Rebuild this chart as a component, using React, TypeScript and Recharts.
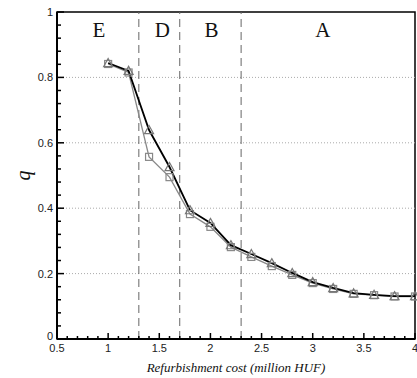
import React from "react";
import {
  Line,
  LineChart,
  ReferenceArea,
  ReferenceDot,
  ReferenceLine,
  XAxis,
  YAxis,
} from "recharts";

// refurbishment cost (million HUF)
const costs = [1.0, 1.2, 1.4, 1.6, 1.8, 2.0, 2.2, 2.4, 2.6, 2.8, 3.0, 3.2, 3.4, 3.6, 3.8, 4.0];
// black line, triangle symbols
const qTriangle = [0.844, 0.82, 0.639, 0.526, 0.394, 0.355, 0.287, 0.26, 0.232, 0.202, 0.174, 0.156, 0.14, 0.135, 0.131, 0.131];
// grey line, square symbols
const qSquare = [0.841, 0.815, 0.557, 0.495, 0.382, 0.343, 0.281, 0.251, 0.223, 0.196, 0.171, 0.153, 0.138, 0.134, 0.13, 0.13];

const xTicks = [
  0.5, 0.6, 0.7, 0.8, 0.9, 1.0, 1.1, 1.2, 1.3, 1.4, 1.5, 1.6, 1.7, 1.8, 1.9, 2.0, 2.1, 2.2,
  2.3, 2.4, 2.5, 2.6, 2.7, 2.8, 2.9, 3.0, 3.1, 3.2, 3.3, 3.4, 3.5, 3.6, 3.7, 3.8, 3.9, 4.0,
];
const yTicks = [
  0, 0.04, 0.08, 0.12, 0.16, 0.2, 0.24, 0.28, 0.32, 0.36, 0.4, 0.44, 0.48, 0.52, 0.56, 0.6,
  0.64, 0.68, 0.72, 0.76, 0.8, 0.84, 0.88, 0.92, 0.96, 1,
];
const gridValues = [0.2, 0.4, 0.6, 0.8];
const zoneBounds = [1.3, 1.7, 2.3];
const zoneLabels = ["E", "D", "B", "A"];
const zoneCenters = [0.91, 1.53, 2.01, 3.1];

const data = costs.map((c, i) => ({ cost: c, tri: qTriangle[i], sq: qSquare[i] }));

const fmt = (v: number) => String(Math.round(v * 10) / 10);
const SERIF = "'Liberation Serif', 'Times New Roman', serif";
const SANS = "'Liberation Sans', Arial, sans-serif";

function XTick(props: any) {
  const { x, y, payload } = props;
  const v = payload.value;
  const major = Math.abs(v * 2 - Math.round(v * 2)) < 1e-6;
  return (
    <g>
      <line x1={x} x2={x} y1={y} y2={y - (major ? 6 : 3)} stroke="#000" strokeWidth={1.5} />
      {major && (
        <text x={x} y={y + 13} textAnchor="middle" fontSize={11} fill="#222" fontFamily={SANS}>
          {fmt(v)}
        </text>
      )}
    </g>
  );
}

function YTick(props: any) {
  const { x, y, payload } = props;
  const v = payload.value;
  const major = Math.abs(v * 5 - Math.round(v * 5)) < 1e-6;
  return (
    <g>
      <line x1={x} x2={x + (major ? 7 : 4)} y1={y} y2={y} stroke="#000" strokeWidth={1.5} />
      {major && (
        <text x={x - 4} y={v === 0 ? y + 1 : y + 4} textAnchor="end" fontSize={11} fill="#222" fontFamily={SANS}>
          {fmt(v)}
        </text>
      )}
    </g>
  );
}

function TriangleDot(props: any) {
  const { cx, cy, index } = props;
  const s = 4.5;
  return (
    <path
      key={`t${index}`}
      d={`M${cx},${cy - s} L${cx + s},${cy + s * 0.8} L${cx - s},${cy + s * 0.8} Z`}
      fill="none"
      stroke="#777"
      strokeWidth={1.2}
    />
  );
}

function SquareDot(props: any) {
  const { cx, cy, index } = props;
  const s = 3.5;
  return (
    <rect key={`s${index}`} x={cx - s} y={cy - s} width={s * 2} height={s * 2} fill="none" stroke="#888" strokeWidth={1.2} />
  );
}

function XTitle(props: any) {
  const { viewBox } = props;
  const cx = viewBox.x + viewBox.width / 2;
  return (
    <text x={cx} y={372} textAnchor="middle" fontSize={13} fontStyle="italic" fill="#111" fontFamily={SERIF}>
      Refurbishment cost (million HUF)
    </text>
  );
}

function YTitle(props: any) {
  const { viewBox } = props;
  const cy = viewBox.y + viewBox.height / 2;
  return (
    <text x={30} y={cy} transform={`rotate(-90 30 ${cy})`} textAnchor="middle" fontSize={20} fontStyle="italic" fill="#111" fontFamily={SERIF}>
      q
    </text>
  );
}

export default function App() {
  return (
    <div style={{ position: "absolute", left: 0, top: 0 }}>
      <LineChart width={417} height={378} data={data} margin={{ top: 12, right: 2, bottom: 0, left: 0 }}>
        {gridValues.map((g) => (
          <ReferenceLine key={g} y={g} stroke="#aaa" strokeDasharray="1 2" />
        ))}
        {zoneBounds.map((b) => (
          <ReferenceLine key={b} x={b} stroke="#666" strokeDasharray="8 5" />
        ))}
        <ReferenceArea x1={0.5} x2={4} y1={0} y2={1} fill="none" stroke="#000" strokeWidth={1.5} />
        <XAxis
          dataKey="cost"
          type="number"
          domain={[0.5, 4]}
          ticks={xTicks}
          interval={0}
          tick={<XTick />}
          tickLine={false}
          tickSize={0}
          tickMargin={0}
          axisLine={{ stroke: "#000", strokeWidth: 2 }}
          height={39}
          label={<XTitle />}
        />
        <YAxis
          type="number"
          domain={[0, 1]}
          ticks={yTicks}
          interval={0}
          tick={<YTick />}
          tickLine={false}
          tickSize={0}
          tickMargin={0}
          axisLine={{ stroke: "#000", strokeWidth: 2 }}
          width={57}
          label={<YTitle />}
        />
        {zoneLabels.map((z, i) => (
          <ReferenceDot
            key={z}
            x={zoneCenters[i]}
            y={0.924}
            r={0}
            shape={(p: any) => (
              <text x={p.cx} y={p.cy} textAnchor="middle" fontSize={21} fill="#111" fontFamily={SERIF}>
                {z}
              </text>
            )}
          />
        ))}
        <Line dataKey="sq" stroke="#888" strokeWidth={1.3} dot={(p: any) => <SquareDot {...p} />} isAnimationActive={false} />
        <Line dataKey="tri" stroke="#000" strokeWidth={1.8} dot={(p: any) => <TriangleDot {...p} />} isAnimationActive={false} />
      </LineChart>
    </div>
  );
}
